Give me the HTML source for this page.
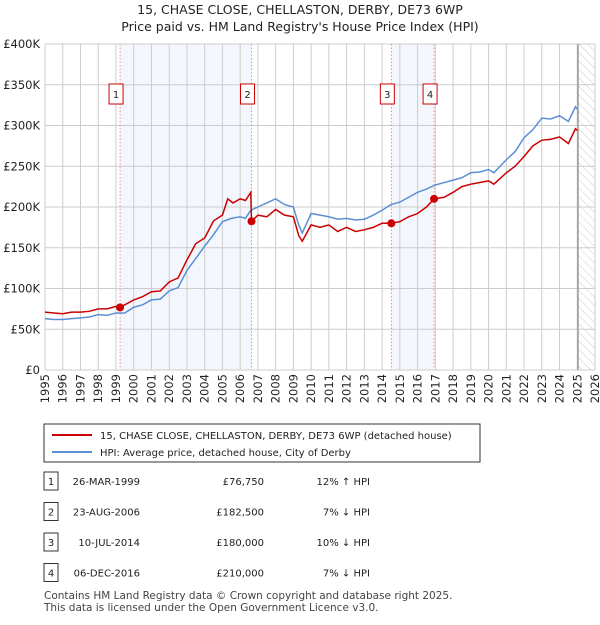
<!DOCTYPE html>
<html><head><meta charset="utf-8"><style>
body{margin:0;background:#fff;font-family:"Liberation Sans","DejaVu Sans",sans-serif;}
svg text{font-family:"DejaVu Sans","Liberation Sans",sans-serif;}
</style></head><body>
<svg id="c" width="600" height="620" xmlns="http://www.w3.org/2000/svg">
<defs><pattern id="h" width="6" height="6" patternUnits="userSpaceOnUse" patternTransform="rotate(-45)"><line x1="0" y1="0" x2="0" y2="6" stroke="#ccc" stroke-width="1"/></pattern></defs>
<text x="300" y="14" text-anchor="middle" font-size="12.5" fill="#222">15, CHASE CLOSE, CHELLASTON, DERBY, DE73 6WP</text>
<text x="300" y="31" text-anchor="middle" font-size="12.5" fill="#222">Price paid vs. HM Land Registry's House Price Index (HPI)</text>
<g id="grid"></g><g id="marks"></g>
<rect x="44" y="424" width="436" height="38" fill="#fff" stroke="#333"/>
<line x1="52" y1="435" x2="92" y2="435" stroke="#cc0000" stroke-width="2"/>
<text x="100" y="439" font-size="10" fill="#222">15, CHASE CLOSE, CHELLASTON, DERBY, DE73 6WP (detached house)</text>
<line x1="52" y1="452" x2="92" y2="452" stroke="#5b8fd4" stroke-width="2"/>
<text x="100" y="456" font-size="10" fill="#222">HPI: Average price, detached house, City of Derby</text>
<g id="tbl" font-size="10" fill="#222"></g>
<text x="44" y="599" font-size="10.5" fill="#444">Contains HM Land Registry data © Crown copyright and database right 2025.</text>
<text x="44" y="611" font-size="10.5" fill="#444">This data is licensed under the Open Government Licence v3.0.</text>
</svg>
<script>
const yearTicks=[1995,1996,1997,1998,1999,2000,2001,2002,2003,2004,2005,2006,2007,2008,2009,2010,2011,2012,2013,2014,2015,2016,2017,2018,2019,2020,2021,2022,2023,2024,2025,2026];
const valueTicks=[0,50000,100000,150000,200000,250000,300000,350000,400000];
const valueTickLabels=["£0","£50K","£100K","£150K","£200K","£250K","£300K","£350K","£400K"];
const priceYears=[1995,1995.5,1996,1996.5,1997,1997.5,1998,1998.5,1999,1999.23,1999.5,2000,2000.5,2001,2001.5,2002,2002.5,2003,2003.5,2004,2004.5,2005,2005.3,2005.6,2006,2006.3,2006.6,2006.64,2007,2007.5,2008,2008.5,2009,2009.3,2009.5,2010,2010.5,2011,2011.5,2012,2012.5,2013,2013.5,2014,2014.52,2015,2015.5,2016,2016.5,2016.93,2017.5,2018,2018.5,2019,2019.5,2020,2020.3,2021,2021.5,2022,2022.5,2023,2023.5,2024,2024.5,2024.9,2025];
const priceValues=[71,70,69,71,71,72,75,75,78,76.75,80,86,90,96,97,108,113,135,155,162,183,190,210,205,210,208,218,182.5,190,188,197,190,188,165,158,178,175,178,170,175,170,172,175,180,180,182,188,192,200,210,212,218,225,228,230,232,228,242,250,262,275,282,283,286,278,296,294];
const hpiYears=[1995,1995.5,1996,1996.5,1997,1997.5,1998,1998.5,1999,1999.5,2000,2000.5,2001,2001.5,2002,2002.5,2003,2003.5,2004,2004.5,2005,2005.5,2006,2006.3,2006.6,2007,2007.5,2008,2008.5,2009,2009.3,2009.5,2010,2010.5,2011,2011.5,2012,2012.5,2013,2013.5,2014,2014.5,2015,2015.5,2016,2016.5,2017,2017.5,2018,2018.5,2019,2019.5,2020,2020.3,2021,2021.5,2022,2022.5,2023,2023.5,2024,2024.5,2024.9,2025];
const hpiValues=[63,62,62,63,64,65,68,67,70,70,77,80,86,87,97,101,122,137,152,166,182,186,188,186,196,200,205,210,203,200,178,168,192,190,188,185,186,184,185,190,196,203,206,212,218,222,227,230,233,236,242,243,246,242,258,268,285,295,309,308,312,305,323,320];
const saleYears=[1999.23,2006.64,2014.52,2016.93];
const saleValues=[76.75,182.5,180,210];
const saleLabels=["1","2","3","4"];
const saleDates=["26-MAR-1999","23-AUG-2006","10-JUL-2014","06-DEC-2016"];
const salePrices=["£76,750","£182,500","£180,000","£210,000"];
const saleHpi=["12% ↑ HPI","7% ↓ HPI","10% ↓ HPI","7% ↓ HPI"];
const X0=45,X1=595,Y0=370,Y1=44;
const xs=y=>X0+(y-1995)/(2026-1995)*(X1-X0);
const ys=v=>Y0-v/400000*(Y0-Y1);
const NS="http://www.w3.org/2000/svg";
function mk(p,t,a){const e=document.createElementNS(NS,t);for(const k in a)e.setAttribute(k,a[k]);p.appendChild(e);return e;}
const g=document.getElementById('grid'),m=document.getElementById('marks'),tb=document.getElementById('tbl');
let r=mk(g,'rect',{x:xs(saleYears[0]),y:Y1,width:xs(saleYears[1])-xs(saleYears[0]),height:Y0-Y1,fill:'#eef3fc',opacity:0.7});


r=mk(g,'rect',{x:xs(saleYears[2]),y:Y1,width:xs(saleYears[3])-xs(saleYears[2]),height:Y0-Y1,fill:'#eef3fc',opacity:0.7});


r=mk(g,'rect',{x:xs(2025.04),y:Y1,width:X1-xs(2025.04),height:Y0-Y1,fill:'url(#h)'});


yearTicks.forEach(y=>{const l=mk(g,'line',{x1:xs(y),x2:xs(y),y1:Y1,y2:Y0,stroke:'#cccccc'});


const t=mk(g,'text',{x:0,y:0,'font-size':11.5,fill:'#222','text-anchor':'end',transform:`translate(${xs(y)+4},374) rotate(-90)`});t.textContent=y;

});
valueTicks.forEach((v,i)=>{const l=mk(g,'line',{x1:X0,x2:X1,y1:ys(v),y2:ys(v),stroke:'#cccccc'});


const t=mk(g,'text',{x:40,y:ys(v)+4,'font-size':11.5,fill:'#222','text-anchor':'end'});t.textContent=valueTickLabels[i];

});
const vl=mk(g,'line',{x1:xs(2025.04),x2:xs(2025.04),y1:Y1,y2:Y0,stroke:'#999','stroke-width':1.5});


saleYears.forEach((y,i)=>{const l=mk(g,'line',{x1:xs(y),x2:xs(y),y1:Y1,y2:Y0,stroke:'#f07070','stroke-width':0.8,'stroke-dasharray':'1.5,2'});


const b=mk(g,'rect',{x:xs(y)-11,y:84,width:14,height:20,fill:'#fff',stroke:'#cc0000'});


const t=mk(g,'text',{x:xs(y)-4,y:98,'font-size':10,'text-anchor':'middle',fill:'#222'});t.textContent=saleLabels[i];

});
const hp=mk(m,'polyline',{points:hpiYears.map((y,i)=>xs(y)+','+ys(hpiValues[i]*1000)).join(' '),fill:'none',stroke:'#5b8fd4','stroke-width':1.5});


const pp=mk(m,'polyline',{points:priceYears.map((y,i)=>xs(y)+','+ys(priceValues[i]*1000)).join(' '),fill:'none',stroke:'#cc0000','stroke-width':1.5});


saleYears.forEach((y,i)=>{const c=mk(m,'circle',{cx:xs(y),cy:ys(saleValues[i]*1000),r:4,fill:'#cc0000'});


const ry=483+i*30.5;
const b=mk(tb,'rect',{x:44,y:ry-11,width:14,height:18,fill:'#fff',stroke:'#333'});


const cols=[[51,saleLabels[i],'middle'],[140,saleDates[i],'end'],[264,salePrices[i],'end'],[370,saleHpi[i],'end']];
cols.forEach(([x,s,a],j)=>{const t=mk(tb,'text',{x:x,y:ry+2,'text-anchor':a});t.textContent=s;

});});
</script>
</body></html>
